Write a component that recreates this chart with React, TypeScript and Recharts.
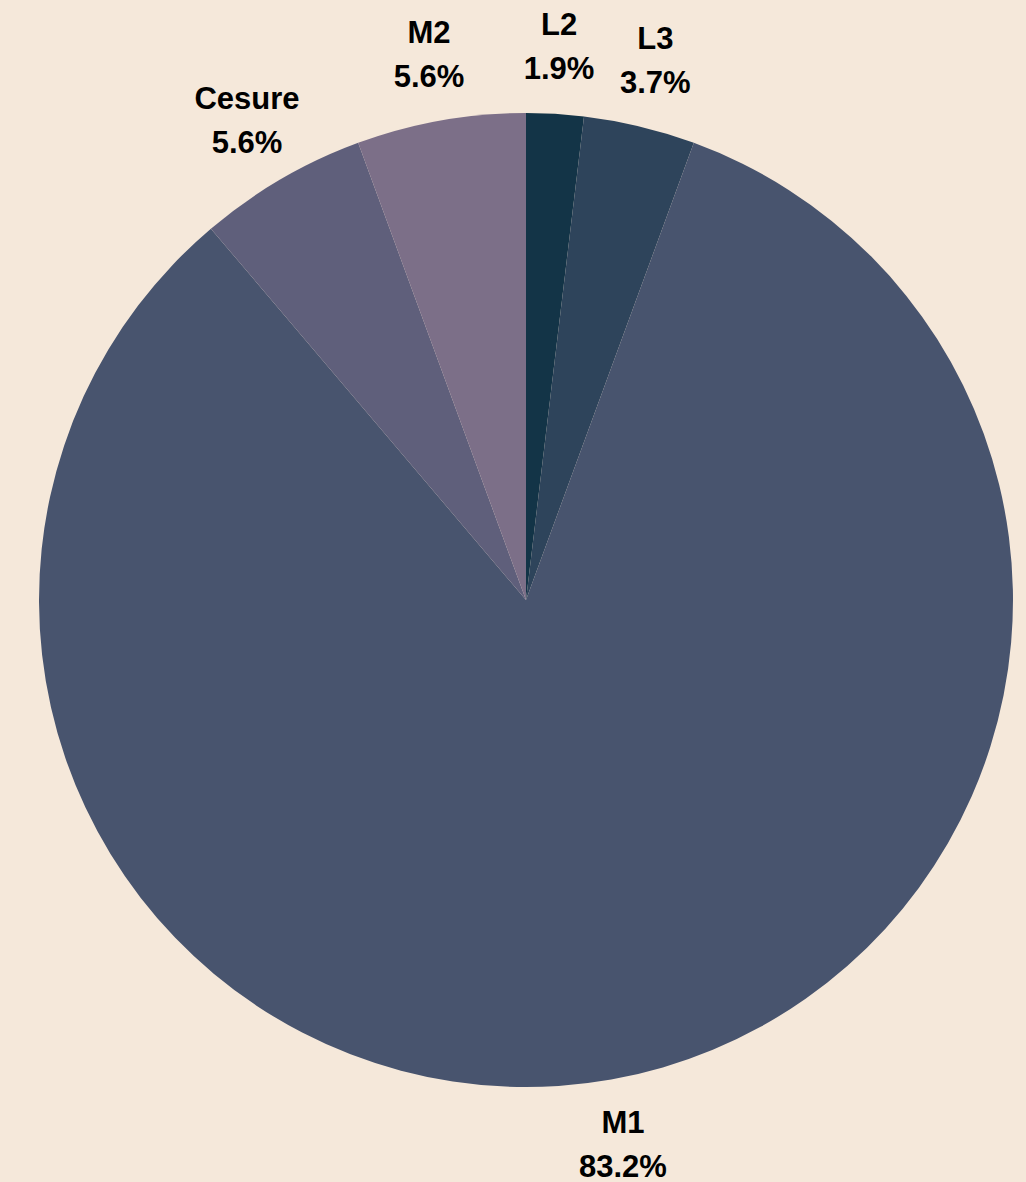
import { PieChart, Pie, Cell } from 'recharts';

const categories = ['L2', 'L3', 'M1', 'Cesure', 'M2'];
const shares = [1.9, 3.7, 83.2, 5.6, 5.6];
const colors = ['#133447', '#2e445b', '#48546e', '#5f5f7b', '#7c6f88'];

const data = categories.map((name, i) => ({ name, value: shares[i] }));

const RAD = Math.PI / 180;

function renderLabel(props: any) {
  const { cx, cy, midAngle, index } = props;
  const r = 554;
  const x = cx + r * Math.cos(-midAngle * RAD);
  const y = cy + r * Math.sin(-midAngle * RAD);
  return (
    <text
      x={x}
      y={y}
      textAnchor="middle"
      fill="#000"
      fontFamily="'Liberation Sans', Arial, sans-serif"
      fontWeight="bold"
      fontSize={31}
    >
      <tspan x={x} dy={-12}>{categories[index]}</tspan>
      <tspan x={x} dy={44}>{`${shares[index].toFixed(1)}%`}</tspan>
    </text>
  );
}

export default function App() {
  return (
    <div
      style={{
        position: 'absolute',
        left: 0,
        top: 0,
        width: 1026,
        height: 1182,
        background: '#f5e8da',
      }}
    >
      <PieChart width={1026} height={1182} margin={{ top: 0, right: 0, bottom: 0, left: 0 }}>
        <Pie
          data={data}
          dataKey="value"
          nameKey="name"
          cx={526}
          cy={600}
          outerRadius={487}
          startAngle={90}
          endAngle={-270}
          stroke="none"
          label={renderLabel}
          labelLine={false}
          isAnimationActive={false}
        >
          {data.map((d, i) => (
            <Cell key={d.name} fill={colors[i]} />
          ))}
        </Pie>
      </PieChart>
    </div>
  );
}
